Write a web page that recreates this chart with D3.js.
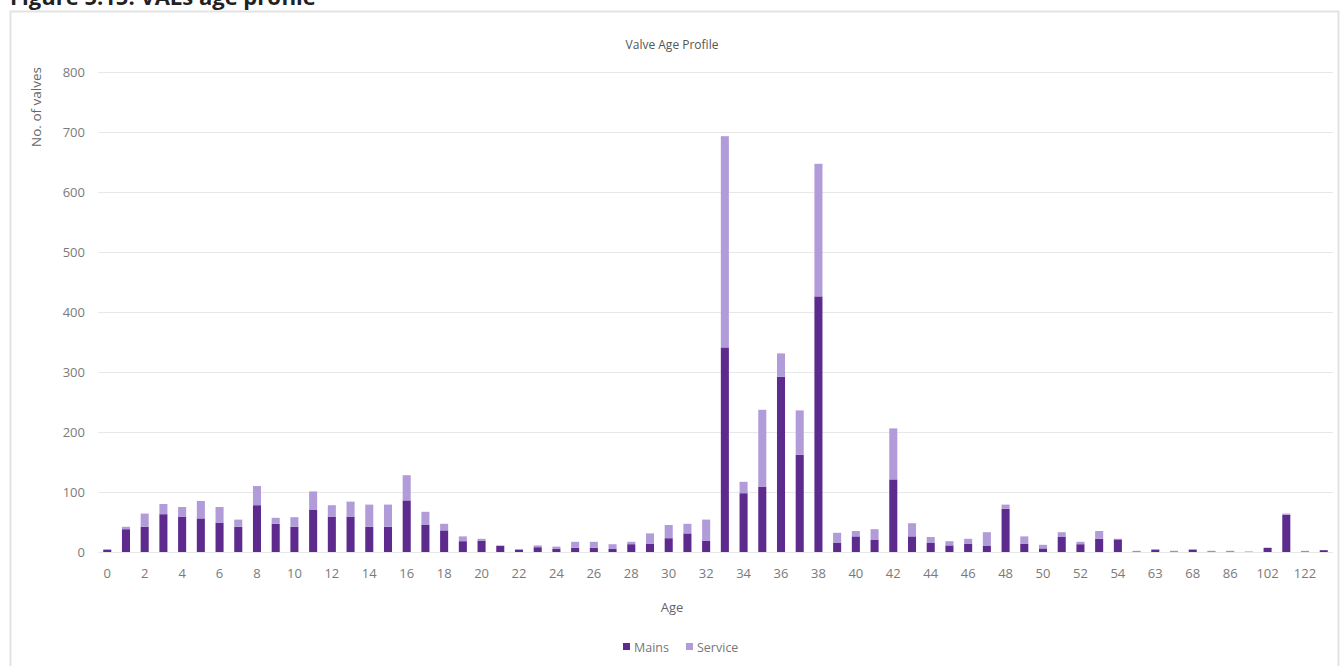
<!DOCTYPE html>
<html>
<head>
<meta charset="utf-8">
<script src="https://cdn.jsdelivr.net/npm/d3@7"></script>
<style>
  html, body { margin: 0; padding: 0; background: #fff; }
  svg { display: block; font-family: "Open Sans", "Noto Sans", sans-serif; }
</style>
</head>
<body>
<svg id="chart" width="1341" height="666"></svg>
<script>
// Valve counts by age (years), split into mains and service valves
const ages = ["0","1","2","3","4","5","6","7","8","9","10","11","12","13","14","15","16","17","18","19",
  "20","21","22","23","24","25","26","27","28","29","30","31","32","33","34","35","36","37","38","39",
  "40","41","42","43","44","45","46","47","48","49","50","51","52","53","54",
  "58","63","65","68","75","86","95","102","110","122","130"];
const mains = [4,38,42,63,59,56,49,42,78,47,42,70,59,59,42,42,86,45,36,18,
  19,10,4,8,5,7,7,5,13,14,23,31,19,341,98,109,292,162,426,15,
  26,20,121,26,15,11,14,10,72,14,6,25,13,22,21,
  1,4,1,4,1,1,0,7,62,1,3];
const service = [0,4,22,17,16,29,26,12,32,10,16,31,19,25,37,37,42,22,11,8,
  3,1,1,3,4,10,10,8,4,17,22,16,35,352,19,128,39,74,221,17,
  9,18,85,22,10,7,8,23,7,12,6,8,4,13,1,
  1,1,1,1,1,1,1,0,2,1,0];
const yTicks = [0,100,200,300,400,500,600,700,800];
const seriesNames = ["Mains","Service"];
const seriesColors = ["#5d2a8e","#b19cd9"];

const svg = d3.select("#chart");

// Figure caption and chart frame
svg.append("text").attr("x", 10).attr("y", 5)
  .attr("font-size", 22).attr("font-weight", "bold").attr("fill", "#222")
  .text("Figure 5.15: VALs age profile");
svg.append("rect").attr("x", 10.5).attr("y", 11.5).attr("width", 1328).attr("height", 670)
  .attr("fill", "#fff").attr("stroke", "#e3e3e3").attr("stroke-width", 2);

const x = d3.scaleBand().domain(ages).range([98, 1333]).paddingInner(0.57).paddingOuter(0.28);
const y = d3.scaleLinear().domain([0, 800]).range([552, 72]);

// Gridlines and y-axis labels
const yAxis = d3.axisLeft(y).tickValues(yTicks).tickSize(-(1333 - 98)).tickPadding(13);
const gy = svg.append("g").attr("transform", "translate(98,0)").call(yAxis);
gy.select(".domain").remove();
gy.selectAll(".tick line").attr("stroke", "#e8e8e8");
gy.selectAll(".tick text").attr("fill", "#7a7a7a").attr("font-size", 13)
  .attr("font-family", "\"Open Sans\", sans-serif");

// Stacked bars
const rows = ages.map((a, i) => ({ age: a, Mains: mains[i], Service: service[i] }));
const stacked = d3.stack().keys(seriesNames)(rows);
svg.append("g").selectAll("g").data(stacked).join("g")
  .attr("fill", (d, i) => seriesColors[i])
  .selectAll("rect").data(d => d).join("rect")
  .attr("x", d => x(d.data.age))
  .attr("width", x.bandwidth())
  .attr("y", d => y(d[1]))
  .attr("height", d => y(d[0]) - y(d[1]));

// x-axis: every other age is labelled
const xAxis = d3.axisBottom(x).tickValues(ages.filter((a, i) => i % 2 === 0)).tickSize(0).tickPadding(17);
const gx = svg.append("g").attr("transform", "translate(0,552)").call(xAxis);
gx.select(".domain").remove();
gx.selectAll(".tick text").attr("fill", "#7a7a7a").attr("font-size", 13)
  .attr("font-family", "\"Open Sans\", sans-serif");

// Titles
svg.append("text").attr("x", 672).attr("y", 49).attr("text-anchor", "middle")
  .attr("font-size", 12).attr("fill", "#555").text("Valve Age Profile");
svg.append("text").attr("x", 672).attr("y", 612).attr("text-anchor", "middle")
  .attr("font-size", 13).attr("fill", "#666").text("Age");
svg.append("text").attr("transform", "translate(41,107) rotate(-90)").attr("text-anchor", "middle")
  .attr("font-size", 13.5).attr("fill", "#666").text("No. of valves");

// Legend
const legend = svg.append("g").attr("transform", "translate(623,647)");
const items = legend.selectAll("g").data(seriesNames).join("g")
  .attr("transform", (d, i) => `translate(${i * 63},0)`);
items.append("rect").attr("x", 0).attr("y", -4).attr("width", 7).attr("height", 7)
  .attr("fill", (d, i) => seriesColors[i]);
items.append("text").attr("x", 11).attr("y", 4.5).attr("font-size", 12.5).attr("fill", "#777").text(d => d);
</script>
</body>
</html>
